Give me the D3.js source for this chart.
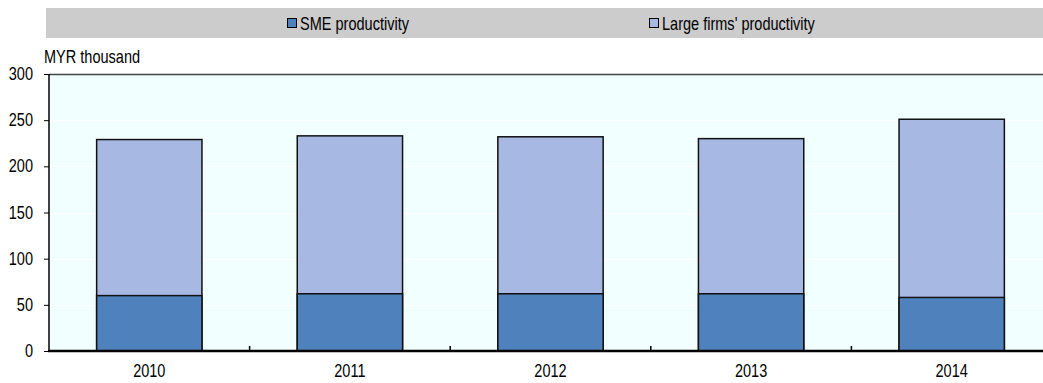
<!DOCTYPE html>
<html>
<head>
<meta charset="utf-8">
<script src="https://cdn.jsdelivr.net/npm/d3@7"></script>
<style>
  html, body { margin: 0; padding: 0; background: #fff; }
  svg { display: block; font-family: "Liberation Sans", Arial, sans-serif; }
</style>
</head>
<body>
<svg id="chart" width="1043" height="383"></svg>
<script>
const categories = ["2010", "2011", "2012", "2013", "2014"];
const smeValues = [60, 62, 62, 62, 58];
const largeValues = [229, 233, 232, 230, 251];
const yTicks = [0, 50, 100, 150, 200, 250, 300];
const seriesNames = ["SME productivity", "Large firms' productivity"];
const seriesColors = ["#4F81BD", "#A7B9E3"];
const unitLabel = "MYR thousand";

const FONT = '"Liberation Sans", Arial, sans-serif';
const FS = 17.5;
const SX = 0.83; // narrow-font emulation
const svg = d3.select("#chart");
const pLeft = 49, pRight = 1052, pTop = 74, pBottom = 351;

const x = d3.scaleBand().domain(categories).range([pLeft, pRight]).paddingInner(0.475).paddingOuter(0.2375);
const band = d3.scaleBand().domain(categories).range([pLeft, pRight]);
const y = d3.scaleLinear().domain([0, 300]).range([pBottom, pTop]);

function narrowText(parent, tx, ty, str, anchor) {
  return parent.append("text")
    .attr("transform", `translate(${tx},${ty}) scale(${SX},1)`)
    .attr("text-anchor", anchor || "start")
    .attr("font-size", FS).attr("font-family", FONT).attr("fill", "#000").text(str);
}

// Legend band
svg.append("rect").attr("x", 46).attr("y", 8).attr("width", 1043 - 46).attr("height", 30).attr("fill", "#CCCCCC");
const legendX = [287, 649];
seriesNames.forEach((n, i) => {
  svg.append("rect").attr("x", legendX[i] + 0.5).attr("y", 18.5).attr("width", 9).attr("height", 9)
    .attr("fill", seriesColors[i]).attr("stroke", "#000").attr("stroke-width", 1);
  narrowText(svg, legendX[i] + 13, 29.5, n);
});

// unit label
narrowText(svg, 44, 63, unitLabel);

// plot background
svg.append("rect").attr("x", pLeft).attr("y", pTop).attr("width", pRight - pLeft).attr("height", pBottom - pTop).attr("fill", "#F2FFFF");

// gridlines
svg.append("g").selectAll("line").data(yTicks.filter(t => t > 0 && t < 300)).join("line")
  .attr("x1", pLeft).attr("x2", pRight).attr("y1", d => Math.round(y(d)) + 0.5).attr("y2", d => Math.round(y(d)) + 0.5)
  .attr("stroke", "#FFFFFF").attr("stroke-width", 1);

// top border
svg.append("line").attr("x1", pLeft).attr("x2", pRight).attr("y1", pTop + 0.5).attr("y2", pTop + 0.5).attr("stroke", "#444").attr("stroke-width", 1.5);

// bars: large first then SME
const g = svg.append("g");
g.selectAll("rect.large").data(categories).join("rect").attr("class", "large")
  .attr("x", d => x(d)).attr("width", x.bandwidth())
  .attr("y", (d, i) => y(largeValues[i])).attr("height", (d, i) => y(0) - y(largeValues[i]))
  .attr("fill", seriesColors[1]).attr("stroke", "#111").attr("stroke-width", 1.5);
g.selectAll("rect.sme").data(categories).join("rect").attr("class", "sme")
  .attr("x", d => x(d)).attr("width", x.bandwidth())
  .attr("y", (d, i) => y(smeValues[i])).attr("height", (d, i) => y(0) - y(smeValues[i]))
  .attr("fill", seriesColors[0]).attr("stroke", "#111").attr("stroke-width", 1.5);

// y axis
const yAxis = d3.axisLeft(y).tickValues(yTicks).tickSize(5).tickPadding(11);
const ya = svg.append("g").attr("transform", `translate(${pLeft},0)`).call(yAxis);
ya.select(".domain").attr("stroke", "#000").attr("stroke-width", 1.5).attr("d", `M0,${pTop}V${pBottom}`);
ya.selectAll(".tick line").attr("stroke", "#000");
ya.selectAll(".tick text").attr("x", null).attr("transform", `translate(-16,0) scale(${SX},1)`)
  .attr("font-size", FS).attr("fill", "#000").attr("font-family", FONT);

// x axis
const xAxis = d3.axisBottom(band).tickSize(0).tickPadding(14);
const xa = svg.append("g").attr("transform", `translate(0,${pBottom})`).call(xAxis);
xa.select(".domain").remove();
xa.selectAll(".tick text").attr("transform", `scale(${SX},1)`)
  .attr("font-size", FS).attr("fill", "#000").attr("font-family", FONT);
svg.append("line").attr("x1", pLeft - 1).attr("x2", pRight).attr("y1", pBottom).attr("y2", pBottom).attr("stroke", "#000").attr("stroke-width", 2.5);
// boundary ticks
svg.append("g").selectAll("line").data(categories.slice(1)).join("line")
  .attr("x1", d => band(d)).attr("x2", d => band(d)).attr("y1", pBottom).attr("y2", pBottom - 5)
  .attr("stroke", "#000").attr("stroke-width", 1.5);
</script>
</body>
</html>
